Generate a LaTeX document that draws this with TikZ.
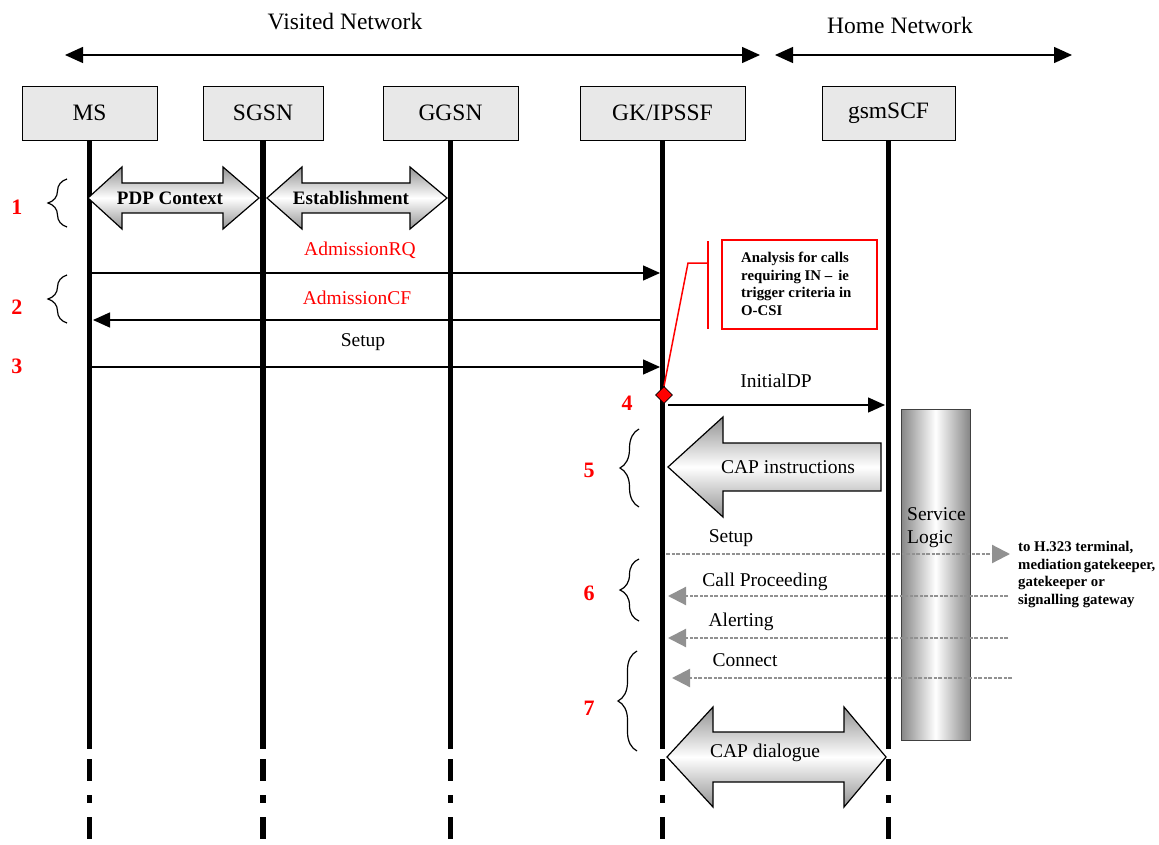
\documentclass[tikz,border=0pt]{standalone}
\usepackage{fontspec}
\setmainfont{Liberation Serif}
\usetikzlibrary{arrows.meta,decorations.pathreplacing,shapes.geometric}
\definecolor{dotgray}{RGB}{145,145,145}
\begin{document}
\begin{tikzpicture}[x=1pt,y=-1pt,
  ent/.style={draw, fill=gray!18, line width=0.9pt, minimum height=54pt, inner sep=0pt, font=\fontsize{23.5}{26}\selectfont},
  life/.style={line width=5.5pt, dash pattern=on 609pt off 10pt on 22pt off 14pt on 8pt off 14pt on 22pt off 200pt},
  hdr/.style={line width=1.4pt, {Triangle[length=18pt,width=16pt]}-{Triangle[length=18pt,width=16pt]}},
  msg/.style={line width=1.4pt, -{Triangle[length=17pt,width=15pt]}},
  dmsg/.style={line width=2.2pt, draw=dotgray, dash pattern=on 4pt off 1.5pt on 3pt off 1.5pt, -{Triangle[length=18pt,width=18pt]}},
  lbl/.style={font=\fontsize{19.5}{22}\selectfont, inner sep=0pt},
  hlbl/.style={font=\fontsize{23.5}{26}\selectfont, inner sep=0pt},
  num/.style={text=red, font=\bfseries\fontsize{22}{24}\selectfont, inner sep=0pt},
  brc/.style={decorate, decoration={brace, amplitude=19pt, aspect=0.5}, line width=1.2pt},
  blk/.style={draw, line width=1.2pt, top color=gray!85, bottom color=gray!85, middle color=white},
  blabel/.style={font=\bfseries\fontsize{19}{22}\selectfont, inner sep=0pt}
]
\useasboundingbox (0,0) rectangle (1159,845);

% network headers
\node[hlbl] (vn) at (345,22) {Visited Network};
\node[hlbl] (hn) at (900,25) {Home Network};
\coordinate (v1) at (65,55); \coordinate (v2) at (760,55);
\coordinate (h1) at (775,55); \coordinate (h2) at (1072,55);
\draw[hdr] (v1) -- (v2);
\draw[hdr] (h1) -- (h2);

% entities
\node[ent, minimum width=135pt] (ms) at (89.5,113) {MS};
\node[ent, minimum width=120pt] (sgsn) at (263,113) {SGSN};
\node[ent, minimum width=135pt] (ggsn) at (450.5,113) {GGSN};
\node[ent, minimum width=165pt] (gk) at (662.5,113) {GK/IPSSF};
\node[ent, minimum width=133pt] (scf) at (888.5,113) {gsmSCF};

% service logic
\node[draw=black!75, line width=1pt, left color=gray!95, right color=gray!95, middle color=white, minimum width=69pt, minimum height=331pt, inner sep=0pt] (sl) at (935.5,574.5) {};
\node[lbl, anchor=base west] (slt1) at (907,520) {Service};
\node[lbl, anchor=base west] (slt2) at (907,543) {Logic};

% dotted messages (behind lifelines)
\coordinate (s1) at (666,554); \coordinate (s2) at (1010,554);
\coordinate (c1) at (1008,596); \coordinate (c2) at (668,596);
\coordinate (al1) at (1008,638); \coordinate (al2) at (668,638);
\coordinate (co1) at (1012,678); \coordinate (co2) at (672,678);
\draw[dmsg] (s1) -- (s2);
\draw[dmsg] (c1) -- (c2);
\draw[dmsg] (al1) -- (al2);
\draw[dmsg] (co1) -- (co2);

% lifelines
\draw[life] (ms.south) -- ++(0,699);
\draw[life] (sgsn.south) -- ++(0,699);
\draw[life] (ggsn.south) -- ++(0,699);
\draw[life] (gk.south) -- ++(0,699);
\draw[life] (scf.south) -- ++(0,699);

% phase 1
\path[blk] (88,198) -- (122,167) -- (122,183) -- (223,183) -- (223,167) -- (259,198) -- (223,229) -- (223,213) -- (122,213) -- (122,229) -- cycle;
\node[blabel] (pdp) at (170,198) {PDP Context};
\path[blk] (267,198) -- (302,167) -- (302,183) -- (410,183) -- (410,167) -- (447,198) -- (410,229) -- (410,213) -- (302,213) -- (302,229) -- cycle;
\node[blabel] (est) at (351,198) {Establishment};

% braces and numbers
\coordinate (b1a) at (67,227); \coordinate (b1b) at (67,179);
\draw[brc] (b1a) -- (b1b);
\coordinate (b2a) at (67,323); \coordinate (b2b) at (67,275);
\draw[brc] (b2a) -- (b2b);
\coordinate (b5a) at (639,507); \coordinate (b5b) at (639,429);
\draw[brc] (b5a) -- (b5b);
\coordinate (b6a) at (639,621); \coordinate (b6b) at (639,559);
\draw[brc] (b6a) -- (b6b);
\coordinate (b7a) at (637,751); \coordinate (b7b) at (637,651);
\draw[brc] (b7a) -- (b7b);
\node[num] (n1) at (17,207) {1};
\node[num] (n2) at (17,307) {2};
\node[num] (n3) at (17,366) {3};
\node[num] (n4) at (627,403) {4};
\node[num] (n5) at (589,470) {5};
\node[num] (n6) at (589,593) {6};
\node[num] (n7) at (589,708) {7};

% messages
\coordinate (a1) at (92,273); \coordinate (a2) at (660,273);
\coordinate (f1) at (660,320); \coordinate (f2) at (93,320);
\coordinate (u1) at (92,367); \coordinate (u2) at (660,367);
\draw[msg] (a1) -- (a2);
\draw[msg] (f1) -- (f2);
\draw[msg] (u1) -- (u2);
\node[lbl, text=red] (lrq) at (360,250) {AdmissionRQ};
\node[lbl, text=red] (lcf) at (357,298) {AdmissionCF};
\node[lbl] (lsu) at (363,342) {Setup};

% analysis annotation
\node[draw=red, line width=1.5pt, minimum width=155pt, minimum height=89pt, inner sep=0pt] (anbox) at (799.5,284.5) {};
\node[anchor=north west, align=left, inner sep=0pt, font=\bfseries\fontsize{14.8}{17.6}\selectfont] (antext) at (741,252) {Analysis for calls\\requiring IN – \,ie\\trigger criteria in\\O-CSI};
\node[diamond, draw=black, line width=0.8pt, fill=red, minimum size=17pt, inner sep=0pt] (dia) at (664,395) {};
\coordinate (k1) at (688,263); \coordinate (k2) at (708,263);
\coordinate (k3) at (708,241); \coordinate (k4) at (708,329);
\draw[red, line width=1.5pt] (dia.north) -- (k1) -- (k2);
\draw[red, line width=1.5pt] (k3) -- (k4);

% InitialDP
\coordinate (i1) at (668,405); \coordinate (i2) at (885,405);
\draw[msg] (i1) -- (i2);
\node[lbl] (lidp) at (776,381) {InitialDP};

% CAP instructions
\path[blk] (668,467) -- (723,417) -- (723,443) -- (881,443) -- (881,491) -- (723,491) -- (723,517) -- cycle;
\node[lbl] (capi) at (788,467) {CAP instructions};

% dotted labels
\node[lbl] (lsu2) at (731,538) {Setup};
\node[lbl] (lcp) at (765,582) {Call Proceeding};
\node[lbl] (lal) at (741,622) {Alerting};
\node[lbl] (lco) at (745,660) {Connect};
\node[anchor=north west, align=left, inner sep=0pt, font=\bfseries\fontsize{14.8}{17.7}\selectfont] (dest) at (1018,541) {to H.323 terminal,\\mediation\,gatekeeper,\\gatekeeper or\\signalling gateway};

% CAP dialogue
\path[blk] (667,757) -- (713,707) -- (713,732) -- (844,732) -- (844,707) -- (886,757) -- (844,807) -- (844,782) -- (713,782) -- (713,807) -- cycle;
\node[lbl] (capd) at (765,753) {CAP dialogue};
\end{tikzpicture}
\end{document}
